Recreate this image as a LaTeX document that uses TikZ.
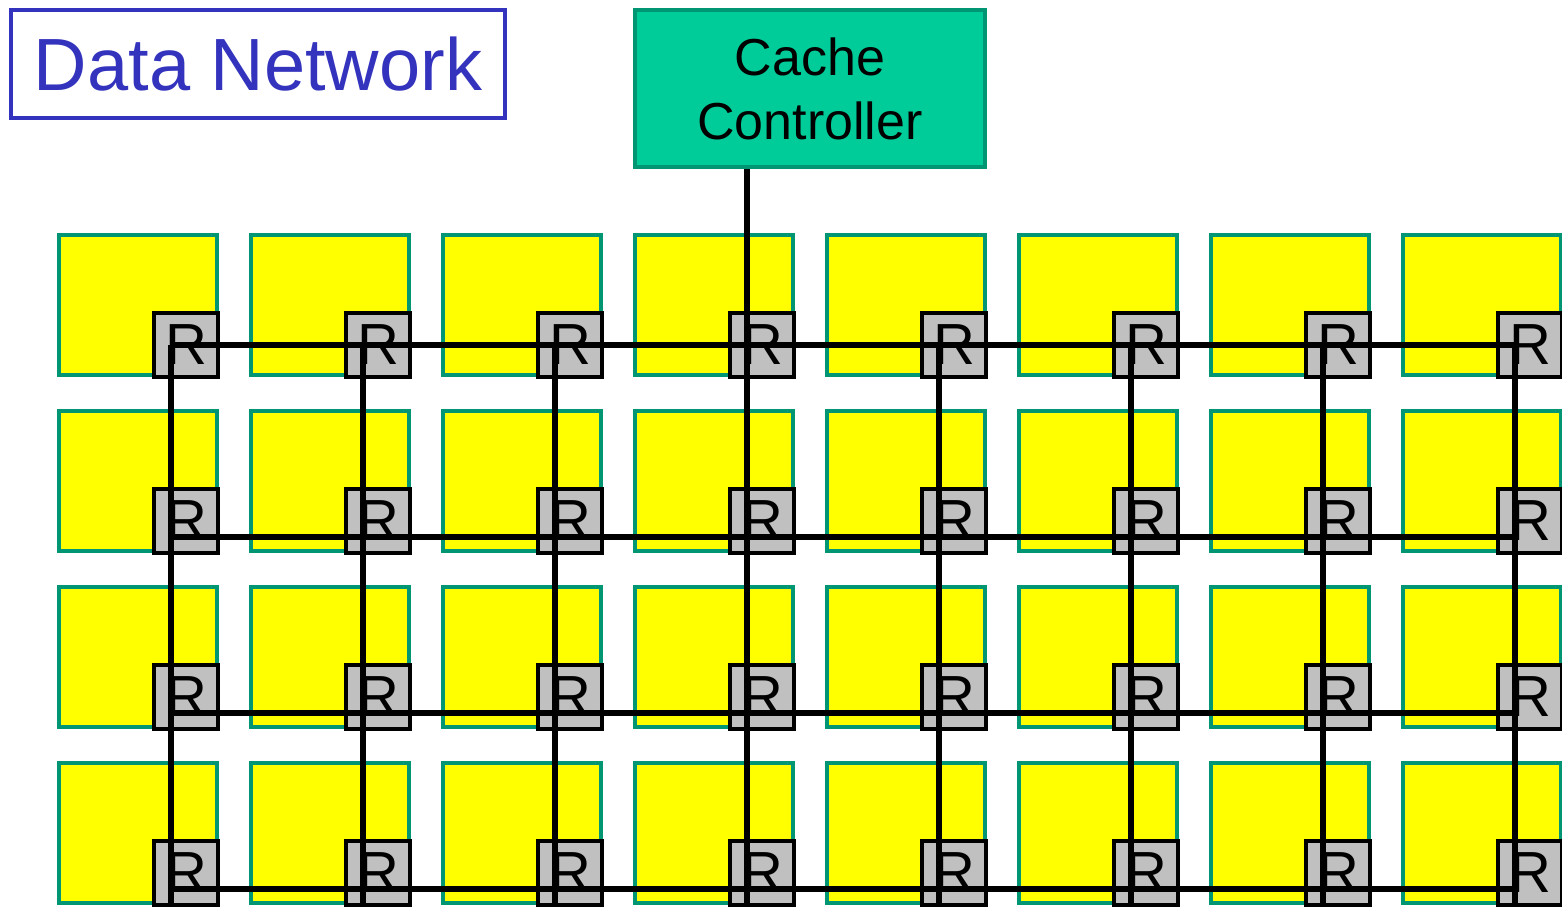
\documentclass[tikz,border=0pt]{standalone}
\usepackage{fontspec}
\setmainfont{Liberation Sans}
\usepackage{tikz}
\usetikzlibrary{positioning}

\definecolor{TileYellow}{RGB}{255,255,0}
\definecolor{TileEdge}{RGB}{0,150,115}
\definecolor{CtrlFill}{RGB}{0,204,153}
\definecolor{RouterGray}{RGB}{192,192,192}
\definecolor{LabelBlue}{RGB}{51,51,190}

\begin{document}
\begin{tikzpicture}[x=0.5pt,y=-0.5pt,
        tile/.style={draw=TileEdge,fill=TileYellow,line width=2pt,
          minimum width=79pt,minimum height=70pt,inner sep=0pt,outer sep=0pt},
        router/.style={draw=black,fill=RouterGray,line width=2.4pt,
          minimum size=32pt,inner sep=0pt,outer sep=0pt,font=\fontsize{29}{29}\selectfont},
        link/.style={draw=black,line width=2.6pt},
        ctrl/.style={draw=TileEdge,fill=CtrlFill,line width=2pt,align=center,
          minimum width=175pt,minimum height=78.5pt,inner sep=0pt,
          font=\fontsize{26}{32}\selectfont},
        title/.style={draw=LabelBlue,line width=2pt,text=LabelBlue,
          minimum width=247pt,minimum height=54pt,inner sep=0pt,
          font=\fontsize{37}{37}\selectfont}]
    \clip (0,0) rectangle (1562,906);

    % tiles and routers
    \foreach \i in {0,...,7}{
      \foreach \j in {0,...,3}{
        \node[tile]   (t-\i-\j) at ({137.5+192*\i},{305+176*\j}) {};
        \node[router] (r-\i-\j) at ({186+192*\i},{345+176*\j}) {R};
      }
    }

    % junction points of the mesh
    \foreach \i in {0,...,7}{
      \coordinate (p-\i-0) at ({171+192*\i},345);
      \foreach \j in {1,2,3}{
        \coordinate (p-\i-\j) at ({171+192*\i},{361+176*\j});
      }
      \coordinate (b-\i) at ({171+192*\i},910);
    }

    % mesh links
    \foreach \j in {0,...,3}{
      \draw[link] (p-0-\j) -- (p-7-\j);
    }
    \foreach \i in {0,...,7}{
      \draw[link] (p-\i-0) -- (b-\i);
    }

    \node[ctrl]  (cc)  at (810,88.5) {Cache\\Controller};
    \node[title] (net) at (258,64) {Data Network};

    \draw[link] (cc.south -| p-3-0) -- (p-3-0);
\end{tikzpicture}
\end{document}
